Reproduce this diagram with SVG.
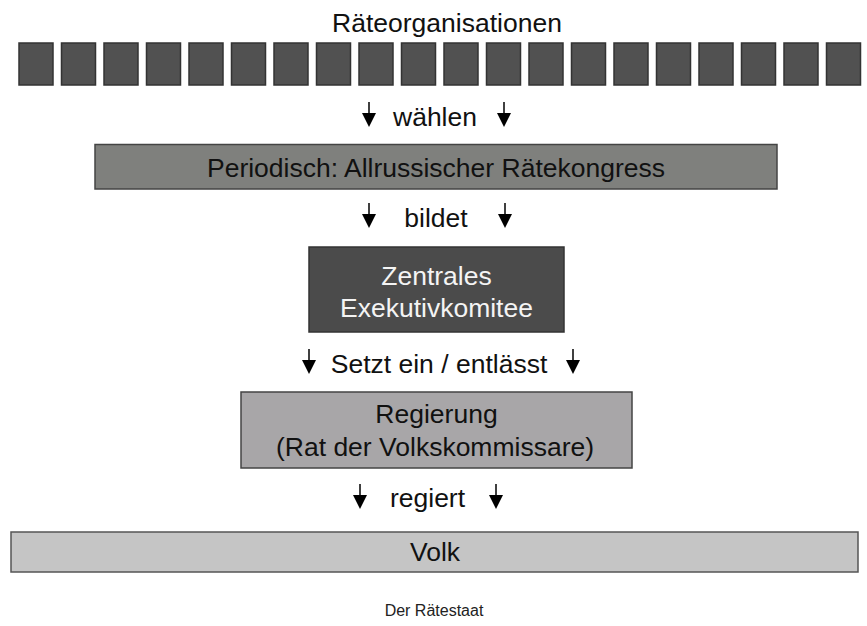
<svg xmlns="http://www.w3.org/2000/svg" width="867" height="626" viewBox="0 0 867 626">
<style>
text{font-family:"Liberation Sans",Arial,sans-serif;font-size:26.5px;fill:#111;text-anchor:middle}
.sq{fill:#515151;stroke:#333;stroke-width:1.5}
.w{fill:#f4f4f4}
.cap{font-size:16px;fill:#222}
.ln{stroke:#000;stroke-width:1.5}
</style>
<defs>
<g id="arr"><line class="ln" x1="0" y1="0" x2="0" y2="13"/><polygon points="-7,11 7,11 0,25" fill="#000"/></g>
</defs>
<rect width="867" height="626" fill="#fff"/>
<g id="raeteorganisationen">
<text x="447" y="32">Räteorganisationen</text>
<rect class="sq" x="19" y="43" width="34" height="42"/>
<rect class="sq" x="61.5" y="43" width="34" height="42"/>
<rect class="sq" x="104" y="43" width="34" height="42"/>
<rect class="sq" x="146.5" y="43" width="34" height="42"/>
<rect class="sq" x="189" y="43" width="34" height="42"/>
<rect class="sq" x="231.5" y="43" width="34" height="42"/>
<rect class="sq" x="274" y="43" width="34" height="42"/>
<rect class="sq" x="316.5" y="43" width="34" height="42"/>
<rect class="sq" x="359" y="43" width="34" height="42"/>
<rect class="sq" x="401.5" y="43" width="34" height="42"/>
<rect class="sq" x="444" y="43" width="34" height="42"/>
<rect class="sq" x="486.5" y="43" width="34" height="42"/>
<rect class="sq" x="529" y="43" width="34" height="42"/>
<rect class="sq" x="571.5" y="43" width="34" height="42"/>
<rect class="sq" x="614" y="43" width="34" height="42"/>
<rect class="sq" x="656.5" y="43" width="34" height="42"/>
<rect class="sq" x="699" y="43" width="34" height="42"/>
<rect class="sq" x="741.5" y="43" width="34" height="42"/>
<rect class="sq" x="784" y="43" width="34" height="42"/>
<rect class="sq" x="826.5" y="43" width="34" height="42"/>
</g>
<g id="connectors">
<use href="#arr" x="369" y="102"/>
<use href="#arr" x="504" y="102"/>
<text x="435" y="126">wählen</text>
<use href="#arr" x="369" y="203"/>
<use href="#arr" x="505" y="203"/>
<text x="436" y="227">bildet</text>
<use href="#arr" x="309" y="349"/>
<use href="#arr" x="573" y="349"/>
<text x="439" y="373">Setzt ein / entlässt</text>
<use href="#arr" x="360" y="484"/>
<use href="#arr" x="496" y="484"/>
<text x="427.5" y="507">regiert</text>
</g>
<g id="kongress">
<rect x="95" y="144.5" width="682" height="44.5" fill="#7f807d" stroke="#444" stroke-width="1.5"/>
<text x="436" y="177">Periodisch: Allrussischer Rätekongress</text>
</g>
<g id="zek">
<rect x="309" y="247" width="255" height="85" fill="#4b4b4b" stroke="#333" stroke-width="1.5"/>
<text class="w" x="436.5" y="285">Zentrales</text>
<text class="w" x="436.5" y="317">Exekutivkomitee</text>
</g>
<g id="regierung">
<rect x="241" y="392" width="391" height="76" fill="#a8a6a8" stroke="#444" stroke-width="1.5"/>
<text x="436.5" y="423">Regierung</text>
<text x="435" y="456">(Rat der Volkskommissare)</text>
</g>
<g id="volk">
<rect x="11" y="532" width="847" height="40" fill="#c5c5c5" stroke="#555" stroke-width="1.5"/>
<text x="435" y="561">Volk</text>
</g>
<text class="cap" x="434" y="616">Der Rätestaat</text>
</svg>
